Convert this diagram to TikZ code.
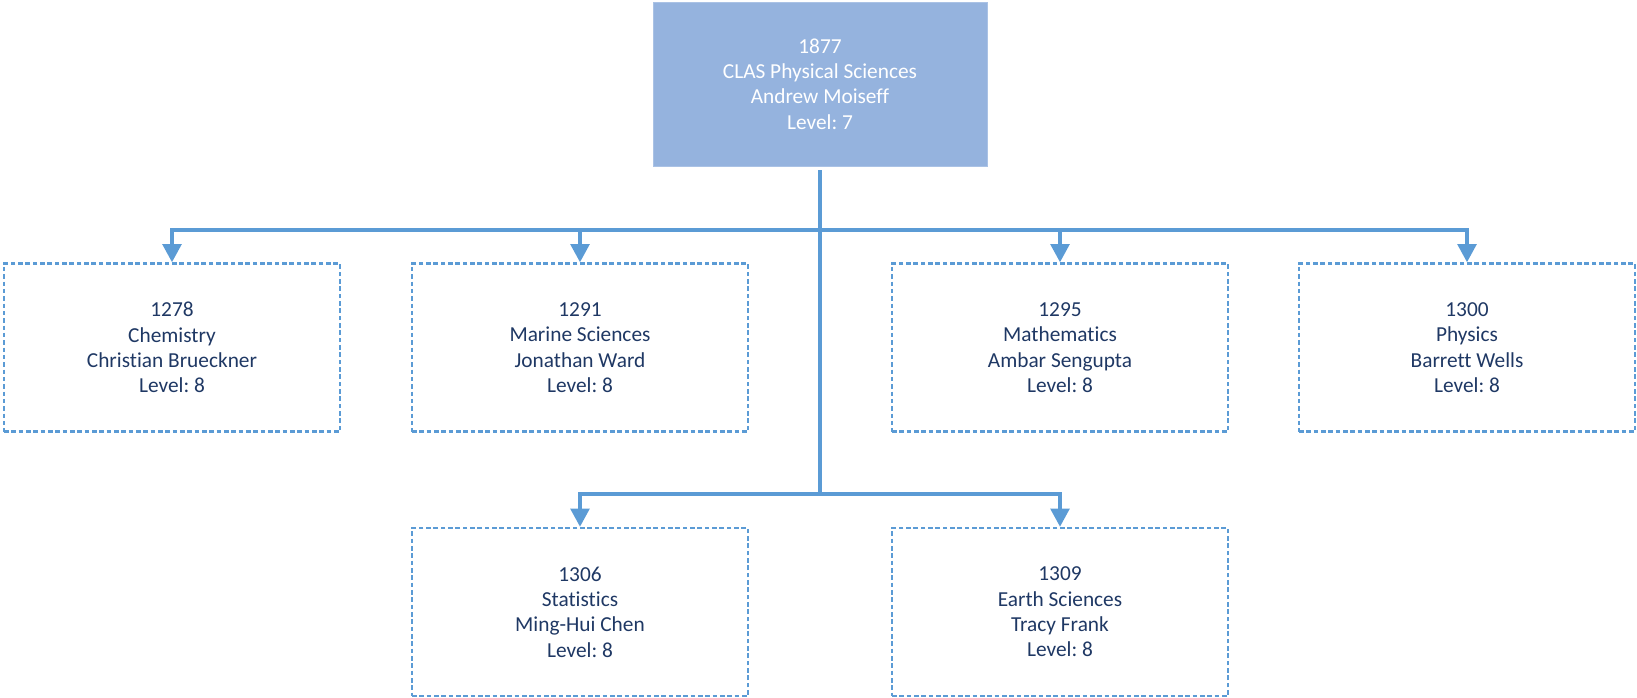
\documentclass[tikz,border=0pt]{standalone}
\usepackage{fontspec}
\setmainfont{Carlito}[Ligatures=NoCommon]
\frenchspacing
\usetikzlibrary{arrows.meta}
\definecolor{topfill}{HTML}{95B3DE}
\definecolor{linecol}{HTML}{5B9BD5}
\definecolor{txtcol}{HTML}{1F3864}
\tikzset{
  topbox/.style={rectangle, fill=topfill, draw=topfill!80!white, line width=0.6pt,
    minimum width=250.5pt, minimum height=123pt, inner sep=0pt, align=center,
    text=white, font=\fontsize{16pt}{19pt}\selectfont},
  childbox/.style={rectangle, draw=linecol, line width=1.9pt, dash pattern=on 3.4pt off 2.1pt,
    minimum width=252pt, minimum height=126pt, inner sep=0pt, align=center,
    text=txtcol, font=\fontsize{16pt}{19pt}\selectfont},
  conn/.style={draw=linecol, line width=2.4pt},
  arr/.style={conn, -{Triangle[width=14pt,length=13.5pt]}},
}
\begin{document}
\begin{tikzpicture}[x=0.75pt, y=-0.75pt]
\useasboundingbox (0,0) rectangle (1637,697);
\node[topbox] (top) at (820,84) {1877\\CLAS Physical Sciences\\Andrew Moiseff\\Level: 7};
\node[childbox] (c1) at (172,347.5) {1278\\Chemistry\\Christian Brueckner\\Level: 8};
\node[childbox] (c2) at (580,347.5) {1291\\Marine Sciences\\Jonathan Ward\\Level: 8};
\node[childbox] (c3) at (1060,347.5) {1295\\Mathematics\\Ambar Sengupta\\Level: 8};
\node[childbox] (c4) at (1467,347.5) {1300\\Physics\\Barrett Wells\\Level: 8};
\node[childbox] (c5) at (580,612) {1306\\Statistics\\Ming-Hui Chen\\Level: 8};
\node[childbox] (c6) at (1060,612) {1309\\Earth Sciences\\Tracy Frank\\Level: 8};
\coordinate (bus1) at (820,230);
\coordinate (bus2) at (820,494);
\draw[conn] ([yshift=-3pt]top.south) -- (bus2);
\draw[arr] (bus1) -| (c1.north);
\draw[arr] (bus1) -| (c2.north);
\draw[arr] (bus1) -| (c3.north);
\draw[arr] (bus1) -| (c4.north);
\draw[arr] (bus2) -| (c5.north);
\draw[arr] (bus2) -| (c6.north);
\end{tikzpicture}
\end{document}
